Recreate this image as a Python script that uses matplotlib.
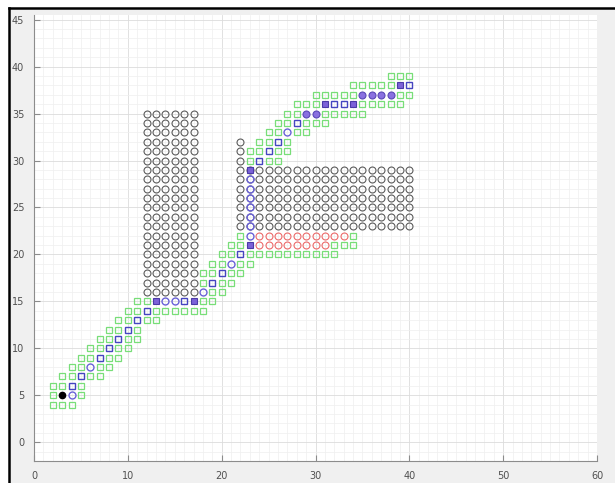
import numpy as np
import matplotlib
matplotlib.use("Agg")
import matplotlib.pyplot as plt
from matplotlib.ticker import MultipleLocator
from matplotlib.lines import Line2D
from matplotlib.patches import Rectangle

# obstacle blocks (grid cells)
obs_x = [x for x in range(12, 18) for y in range(16, 36)] + \
        [x for x in range(22, 41) for y in range(23, 30)] + [22, 22, 22]
obs_y = [y for x in range(12, 18) for y in range(16, 36)] + \
        [y for x in range(22, 41) for y in range(23, 30)] + [30, 31, 32]

# red cells
red_x = list(range(24, 34)) + list(range(24, 32))
red_y = [22] * 10 + [21] * 8

# explored cells (green), row by row
green_rows = {
    4: [2, 3, 4], 5: [2, 5], 6: [2, 3, 5], 7: [3, 4, 6, 7], 8: [4, 5, 7, 8],
    9: [5, 6, 8, 9], 10: [6, 7, 9, 10], 11: [7, 8, 10, 11], 12: [8, 9, 11],
    13: [9, 10, 12, 13], 14: [10, 11, 13, 14, 15, 16, 17, 18], 15: [11, 12, 18, 19],
    16: [19, 20], 17: [18, 20, 21], 18: [18, 19, 21, 22], 19: [19, 20, 22, 23],
    20: [20, 21, 23, 24, 25, 26, 27, 28, 29, 30, 31, 32], 21: [21, 22, 32, 33, 34],
    22: [22, 34], 30: [23, 25, 26], 31: [23, 24, 26, 27], 32: [24, 25, 27],
    33: [25, 26, 28, 29], 34: [26, 27, 29, 30, 31],
    35: [27, 28, 31, 32, 33, 34, 35], 36: [28, 29, 30, 35, 36, 37, 38, 39],
    37: [30, 31, 32, 33, 34, 39, 40], 38: [34, 35, 36, 37, 38], 39: [38, 39, 40],
}
green_x = [x for y, xs in green_rows.items() for x in xs]
green_y = [y for y, xs in green_rows.items() for x in xs]

# searched path cells (blue outline squares)
blue_x = [4, 5, 7, 8, 9, 10, 11, 12, 16, 19, 20, 22,
          24, 25, 26, 28, 32, 33, 40]
blue_y = [6, 7, 9, 10, 11, 12, 13, 14, 15, 17, 18, 20,
          30, 31, 32, 34, 36, 36, 38]

# searched path cells (blue outline circles)
bluec_x = [4, 6, 14, 15, 18, 21, 23, 23, 23, 23, 23, 23, 23, 27]
bluec_y = [5, 8, 15, 15, 16, 19, 22, 23, 24, 25, 26, 27, 28, 33]

# highlighted cells (filled purple squares / circles)
purple_x = [13, 17, 23, 23, 31, 34, 39]
purple_y = [15, 15, 21, 29, 36, 36, 38]
purplec_x = [29, 30, 35, 36, 37, 38]
purplec_y = [35, 35, 37, 37, 37, 37]

start = (3, 5)

fig = plt.figure(figsize=(6.15, 4.83), dpi=100, facecolor="white")
fig.patches.append(Rectangle((9 / 615, 0), 1, 1 - 8 / 483, transform=fig.transFigure,
                             facecolor="#f0f0f0", edgecolor="none", zorder=-5))
fig.lines.append(Line2D([9 / 615, 1], [1 - 8 / 483] * 2, transform=fig.transFigure,
                        color="black", lw=1.8))
fig.lines.append(Line2D([9 / 615] * 2, [0, 1 - 8 / 483], transform=fig.transFigure,
                        color="black", lw=1.8))

ax = fig.add_axes([34 / 615, 22 / 483, 563 / 615, 446 / 483])
ax.set_facecolor("white")

ms = 5.0
ax.plot(obs_x, obs_y, "o", ms=ms, mfc="none", mec="#5c5c5c", mew=0.8)
ax.plot(red_x, red_y, "o", ms=ms, mfc="none", mec="#ec6a6a", mew=0.8)
ax.plot(green_x, green_y, "s", ms=ms - 0.6, mfc="none", mec="#78de78", mew=0.9)
ax.plot(blue_x, blue_y, "s", ms=ms - 0.6, mfc="none", mec="#4545c0", mew=1.0)
ax.plot(bluec_x, bluec_y, "o", ms=ms, mfc="none", mec="#6a62d8", mew=1.0)
ax.plot(purple_x, purple_y, "s", ms=ms - 0.4, mfc="#7c62d8", mec="#4b3aa8", mew=0.8)
ax.plot(purplec_x, purplec_y, "o", ms=ms, mfc="#8a70e0", mec="#5a48b8", mew=0.8)
ax.plot(*start, "o", ms=4.5, mfc="black", mec="black")

ax.set_xlim(0, 60)
ax.set_ylim(-2, 45.5)
ax.xaxis.set_major_locator(MultipleLocator(10))
ax.yaxis.set_major_locator(MultipleLocator(5))
ax.xaxis.set_minor_locator(MultipleLocator(1))
ax.yaxis.set_minor_locator(MultipleLocator(1))
ax.grid(which="major", color="#dcdcdc", lw=0.6)
ax.grid(which="minor", color="#efefef", lw=0.5)
ax.set_axisbelow(True)
for s in ["top", "right"]:
    ax.spines[s].set_visible(False)
for s in ["left", "bottom"]:
    ax.spines[s].set_color("#8c8c8c")
ax.tick_params(which="major", direction="in", length=4, color="#8c8c8c",
               labelsize=7, labelcolor="#505050", pad=7)
ax.tick_params(which="minor", length=0)

fig.savefig("out.png", dpi=100, facecolor=fig.get_facecolor())
